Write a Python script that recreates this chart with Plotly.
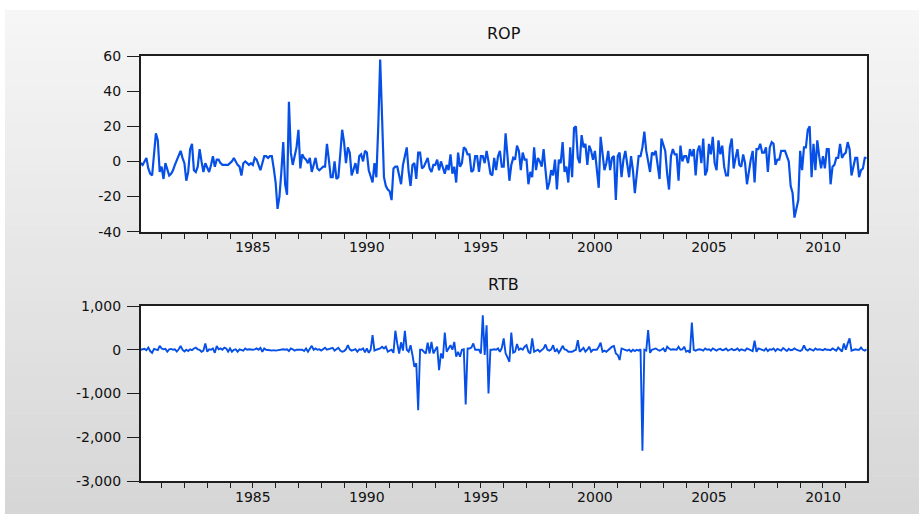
import plotly.graph_objects as go

# ---------------- data (monthly, 1980M02 - 2011M12) ----------------
start_year, start_month = 1980, 2
end_year, end_month = 2011, 12

rop_1980s = [
    -1, -2, 0, 2, -4, -7, -8, 4, 16, 12, -6,            # 1980 (Feb-Dec)
    -3, -10, -1, -5, -8, -7, -5, -2, 1, 3, 6, 2,        # 1981
    -1, -11, -6, 7, 10, -5, -6, -3, 7, 0, -6, -1,       # 1982
    -4, -6, -2, 3, -3, 1, 1, -1, -2, -2, -2, -2,        # 1983
    -1, 0, 2, 0, -2, -3, -8, -1, 0, -1, -2, -1,         # 1984
    -2, 2, 1, -2, -5, -1, 3, 3, 2, 3, 3, -4,            # 1985
    -12, -27, -20, -6, 11, -13, -19, 34, 5, -2, 4, 8,   # 1986
    18, -4, 4, 2, 1, -1, 2, -6, -2, 2, -4, -5,          # 1987
    -4, -3, -3, 10, 1, -9, -9, 0, -10, -9, 4, 18,       # 1988
    11, -1, 8, 5, -8, -4, -1, -7, 3, 4, 0, 6,           # 1989
]
rop_1990s = [
    5, -5, -8, -12, -1, -9, 20, 58, 25, -9, -14, -16,   # 1990
    -17, -22, -4, -3, -3, -8, -13, -2, 3, 8, -6, -14,   # 1991
    -2, -1, -10, 5, 5, -4, -3, 0, 2, -4, -6, -2,        # 1992
    -2, 1, -5, 0, -3, -7, -2, -5, 4, -7, -3, -12,       # 1993
    5, -3, -1, 8, 7, 4, 4, -6, -5, 3, 3, -6,            # 1994
    3, 3, -1, 6, 0, -7, -8, 2, -5, 3, 6, -3,            # 1995
    -3, 16, 3, -11, -2, 2, 1, 9, 6, -5, 5, 1,           # 1996
    1, -13, -6, -9, 8, -5, 2, 0, -3, 7, -5, -16,        # 1997
    -12, -5, -8, 1, -16, 1, -1, 11, -6, -3, -12, 8,     # 1998
    -9, 19, 20, 2, -1, 15, 8, 10, -2, 9, 6, 1,          # 1999
]
rop_2000s = [
    6, -4, -15, 14, 6, -5, -1, 6, -5, 2, 3, -22,        # 2000
    3, 5, -9, 1, 6, -2, -9, 3, -5, -18, -5, 3,          # 2001
    3, 8, 17, 6, 0, -6, 5, 4, 6, -1, -10, 13,           # 2002
    10, 6, -7, -16, 3, 7, 4, 4, -11, 9, 0, 3,           # 2003
    3, -1, 7, 3, 7, -8, 6, 9, -1, 13, -8, -5,           # 2004
    10, 4, 14, -1, -5, 12, 4, 9, -3, -8, -8, 8,         # 2005
    13, -4, 2, 7, -2, -3, 4, -1, -13, -5, 1, 6,         # 2006
    -12, 7, 7, 10, 5, 5, 8, -6, 8, 11, 10, -2,          # 2007
    1, 1, 6, 6, 6, 3, 0, -14, -18, -32, -26, -22,       # 2008
    6, -5, 8, 8, 18, 20, -9, 10, -5, 12, 3, -4,         # 2009
]
rop_2010s = [
    3, -4, 7, 7, -13, -3, -2, 2, 2, 10, 2, 4,           # 2010
    5, 11, 7, -8, -3, 2, 2, -9, -5, -4, 2, 2,           # 2011
]

rtb_1980s = [
    0, 10, 20, -10, 50, -30, -70, 20, 10, -10, 90,
    30, 10, 20, -45, 10, 20, 0, 10, -40, 10, 85, 0,
    -40, 0, -30, 10, -10, 30, 50, 10, 0, -45, -20, 145,
    -45, 10, 0, 30, -70, 85, 10, 30, 0, 50, 30, -45,
    30, -45, 0, 10, -45, 10, 0, -20, 30, 0, 10, 0,
    0, 10, 30, 0, 45, -45, 30, 0, 0, -10, -20, -10,
    -20, -10, 0, 0, 10, 0, 10, -30, 30, 10, -20, 0,
    0, -10, 0, -30, 30, -45, 30, 90, 0, 30, 0, 10,
    -20, 10, 45, 0, 10, 20, 45, -20, 10, 45, -20, -45,
    -30, 10, 105, 10, -20, 0, 15, -45, 10, 0, 30, -60,
]
rtb_1990s = [
    30, -70, 0, 335, -20, 0, 10, 30, 70, 30, 70, -45,
    -20, 0, -70, 435, 145, -85, 170, -20, 435, 0, -45, 105,
    -120, -390, -310, -1380, 0, 0, -45, -85, 160, -85, 180, -85,
    0, 70, -465, -85, -200, 395, -45, 30, 105, 0, 180, -160,
    -45, -160, 0, 10, -1250, 30, 30, 50, 145, 0, 0, 0,
    -85, 790, -120, 560, -1000, 0, 0, 10, 0, 30, -45, 40,
    260, -85, -175, -275, 395, -70, -45, 130, 0, 30, 0, 70,
    105, -45, -85, 260, -45, -20, 0, -45, 0, 30, 120, 0,
    -20, 10, 105, -45, 10, -70, 0, 90, 10, 0, -45, -45,
    -45, -20, 0, 220, -45, 0, 45, -45, 0, 70, -45, 0,
]
rtb_2000s = [
    0, 0, 70, 160, -45, -20, -45, 0, 30, 70, 85, -85,
    -120, -235, 30, 10, 0, -20, 0, -45, 0, -30, 0, -20,
    10, -2310, 0, -20, 450, -70, 0, 10, 30, 0, -20, 0,
    30, -45, 70, 30, 0, 10, 0, 0, 70, 0, 10, 70,
    -45, -20, -70, 620, 0, -20, 0, 10, 0, -20, 30, 0,
    10, -20, 30, 0, -20, 10, 20, -10, 0, 30, -20, 0,
    20, -10, 0, 30, -20, 10, 0, -20, 30, 10, 0, -30,
    205, -45, 30, 10, 0, -20, 30, -30, 10, 0, 30, -30,
    20, 0, -20, 40, 10, -30, 20, -10, 0, 30, 0, -20,
    -30, 0, 100, 10, -20, 20, 0, -20, 30, 0, 10, 0,
]
rtb_2010s = [
    -10, 20, 0, 0, -10, 30, 0, -20, 50, 0, -40, 145,
    0, 145, 260, -20, 0, 10, 0, 0, 50, 0, -20, 10,
]

titles = ["ROP", "RTB"]
x_tick_years = [1985, 1990, 1995, 2000, 2005, 2010]
rop_ticks = [60, 40, 20, 0, -20, -40]
rop_ticktext = ["60", "40", "20", "0", "-20", "-40"]
rtb_ticks = [1000, 0, -1000, -2000, -3000]
rtb_ticktext = ["1,000", "0", "-1,000", "-2,000", "-3,000"]

# ---------------- build series ----------------
t = []
for yr in range(start_year, end_year + 1):
    for mo in range(1, 13):
        if (yr, mo) < (start_year, start_month) or (yr, mo) > (end_year, end_month):
            continue
        t.append(yr + (mo - 1) / 12.0)

rop = rop_1980s + rop_1990s + rop_2000s + rop_2010s
rtb = rtb_1980s + rtb_1990s + rtb_2000s + rtb_2010s
assert len(rop) == len(t) == len(rtb), (len(rop), len(rtb), len(t))

W, H = 919, 514
LINE = "#0650e8"
AX = "#1e1e1e"
FONT = "DejaVu Sans"

x_dom = [140.7 / W, 866.7 / W]
y1_dom = [1 - 231.7 / H, 1 - 56 / H]
y2_dom = [1 - 481 / H, 1 - 306 / H]

fig = go.Figure()
fig.add_trace(go.Scatter(x=t, y=rop, mode="lines", line=dict(color=LINE, width=2.2),
                         xaxis="x", yaxis="y", showlegend=False, hoverinfo="skip"))
fig.add_trace(go.Scatter(x=t, y=rtb, mode="lines", line=dict(color=LINE, width=1.9),
                         xaxis="x2", yaxis="y2", showlegend=False, hoverinfo="skip"))

xcommon = dict(
    range=[t[0], t[-1]], tickmode="array", tickvals=x_tick_years,
    ticktext=[str(v) for v in x_tick_years],
    ticks="outside", ticklen=5, tickwidth=1, tickcolor=AX,
    minor=dict(dtick=1, tick0=1980, ticks="outside", ticklen=5, tickwidth=1, tickcolor=AX),
    showgrid=False, zeroline=False, showline=True, linecolor=AX, linewidth=1.6,
    mirror=True, tickfont=dict(family=FONT, size=14, color="#111"),
    automargin=False, fixedrange=True, ticklabelstandoff=-3,
)
ycommon = dict(
    tickmode="array", ticks="outside", ticklen=12, tickwidth=1, tickcolor=AX,
    showgrid=False, zeroline=False, showline=True, linecolor=AX, linewidth=1.6,
    mirror=True, tickfont=dict(family=FONT, size=14, color="#111"),
    automargin=False, fixedrange=True, ticklabelstandoff=3,
)

fig.update_layout(
    width=W, height=H, autosize=False,
    margin=dict(l=0, r=0, t=0, b=0, pad=0),
    paper_bgcolor="white", plot_bgcolor="white",
    xaxis=dict(domain=x_dom, anchor="y", **xcommon),
    yaxis=dict(domain=y1_dom, anchor="x", range=[-40, 60],
               tickvals=rop_ticks, ticktext=rop_ticktext, **ycommon),
    xaxis2=dict(domain=x_dom, anchor="y2", **xcommon),
    yaxis2=dict(domain=y2_dom, anchor="x2", range=[-3000, 1000],
                tickvals=rtb_ticks, ticktext=rtb_ticktext, **ycommon),
)

# background: light grey vertical gradient panel (drawn as bands)
shapes = []
top_px, left_px = 10, 5
n_bands = 40
c_top, c_bot = 246, 214
for i in range(n_bands):
    y0p = top_px + (H - top_px) * i / n_bands
    y1p = top_px + (H - top_px) * (i + 1) / n_bands
    c = round(c_top + (c_bot - c_top) * (i + 0.5) / n_bands)
    shapes.append(dict(type="rect", xref="paper", yref="paper",
                       x0=left_px / W, x1=1, y0=1 - y1p / H - 0.001, y1=1 - y0p / H,
                       fillcolor=f"rgb({c},{c},{c})", line=dict(width=0), layer="below"))
for dom in (y1_dom, y2_dom):
    shapes.append(dict(type="rect", xref="paper", yref="paper",
                       x0=x_dom[0], x1=x_dom[1], y0=dom[0], y1=dom[1],
                       fillcolor="white", line=dict(width=0), layer="below"))
fig.update_layout(shapes=shapes)

xc = (x_dom[0] + x_dom[1]) / 2
fig.add_annotation(text=titles[0], x=xc, y=1 - 33 / H, xref="paper", yref="paper",
                   showarrow=False, xanchor="center", yanchor="middle",
                   font=dict(family=FONT, size=16, color="#111"))
fig.add_annotation(text=titles[1], x=xc, y=1 - 284 / H, xref="paper", yref="paper",
                   showarrow=False, xanchor="center", yanchor="middle",
                   font=dict(family=FONT, size=16, color="#111"))

fig.write_html("out.html", config={"displayModeBar": False},
               post_script="document.body.style.margin='0';document.body.style.overflow='hidden';")
